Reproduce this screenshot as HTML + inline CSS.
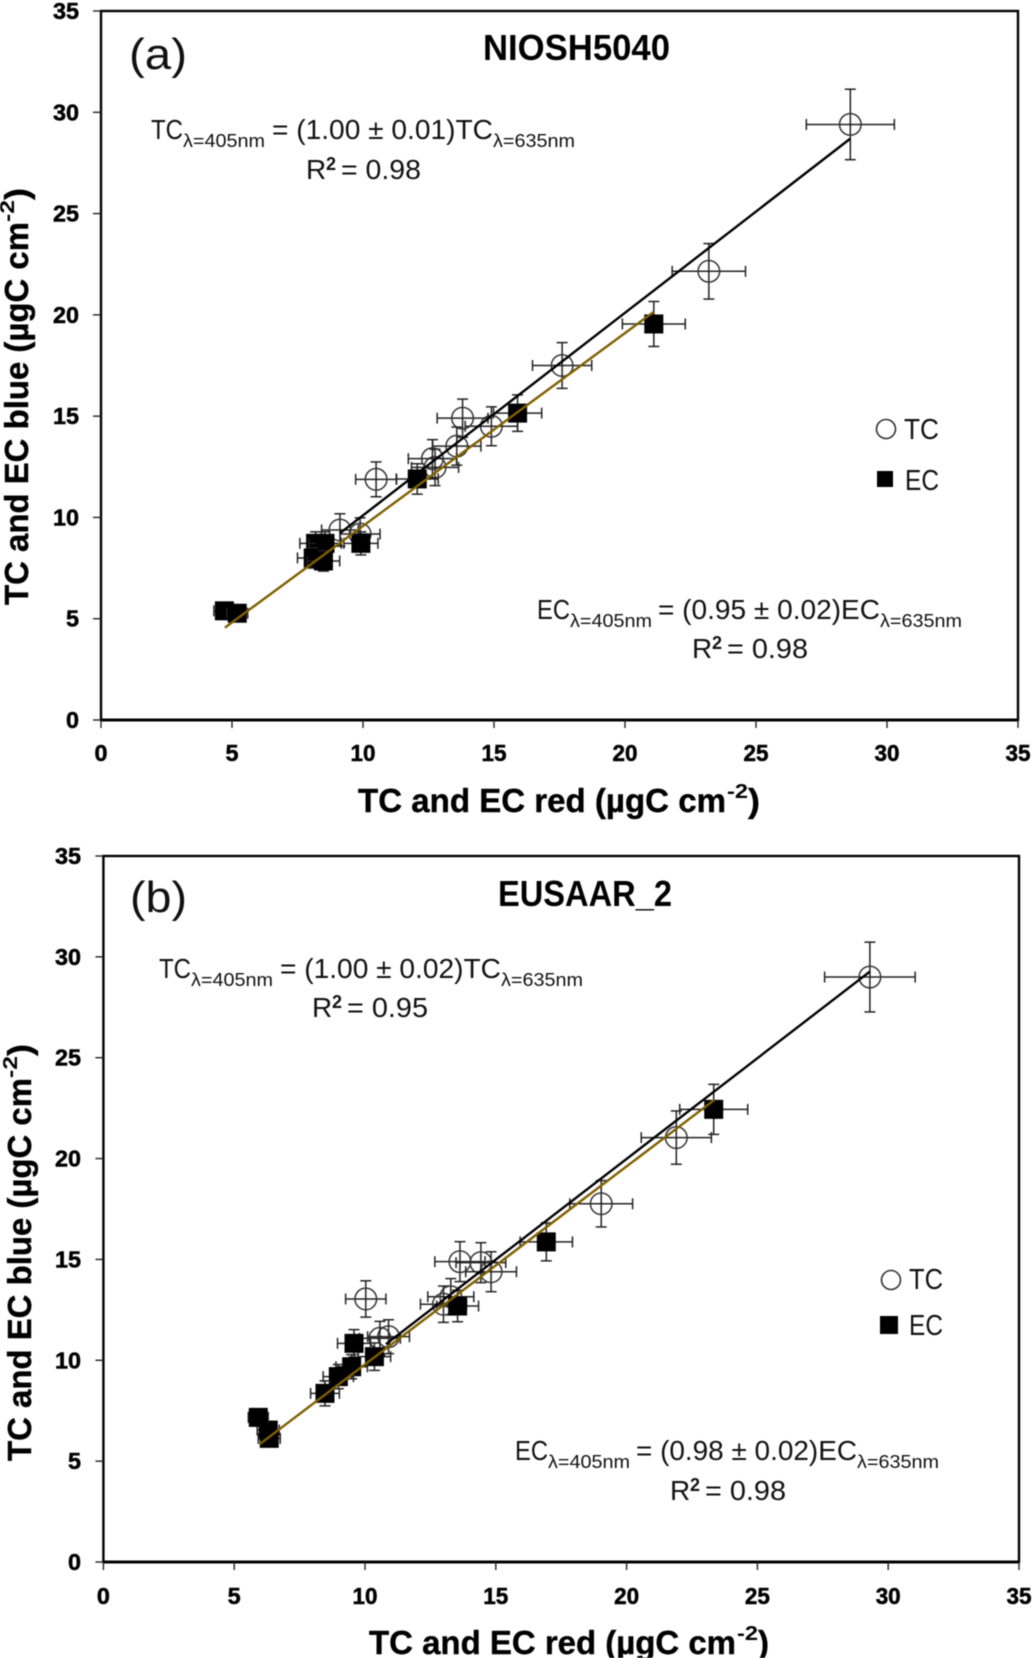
<!DOCTYPE html>
<html lang="en">
<head>
<meta charset="utf-8">
<title>TC and EC blue vs red comparison</title>
<style>
html,body{margin:0;padding:0;background:#fff;}
body{width:1033px;height:1658px;overflow:hidden;}
svg{display:block;filter:blur(0.45px);}
text{font-family:"Liberation Sans",sans-serif;fill:#111;}
.b{font-weight:bold;fill:#000;stroke:#000;stroke-width:0.5px;}
.eq{font-size:28px;}
.sub{font-size:18px;}
.sup{font-size:18px;font-weight:bold;}
.axt{font-size:33px;font-weight:bold;fill:#000;stroke:#000;stroke-width:0.4px;}
.axs{font-size:20px;font-weight:bold;fill:#000;}
.ttl{font-size:36px;font-weight:bold;fill:#000;}
.lab{font-size:44px;font-weight:normal;}
.leg{font-size:29px;}
</style>
</head>
<body>
<svg id="fig" xmlns="http://www.w3.org/2000/svg" width="1033" height="1658" viewBox="0 0 1033 1658">
  <rect width="1033" height="1658" fill="#fff"/>

  <g id="panel-a"></g>
  <g id="panel-b"></g>

  <!-- Panel A text -->
  <g>
    <text class="lab" x="129" y="69" textLength="58" lengthAdjust="spacingAndGlyphs">(a)</text>
    <text class="ttl" x="483" y="60" textLength="187" lengthAdjust="spacingAndGlyphs">NIOSH5040</text>

    <g>
      <text class="eq" x="151" y="139" textLength="32" lengthAdjust="spacingAndGlyphs">TC</text>
      <text class="sub" x="183" y="147" textLength="82" lengthAdjust="spacingAndGlyphs">λ=405nm</text>
      <text class="eq" x="272" y="139" textLength="221" lengthAdjust="spacingAndGlyphs">= (1.00 ± 0.01)TC</text>
      <text class="sub" x="493" y="147" textLength="82" lengthAdjust="spacingAndGlyphs">λ=635nm</text>
      <text class="eq" x="306" y="179">R</text>
      <text class="sup" x="326" y="170">2</text>
      <text class="eq" x="341" y="179" textLength="80" lengthAdjust="spacingAndGlyphs">= 0.98</text>
    </g>

    <g>
      <text class="eq" x="537" y="619" textLength="33" lengthAdjust="spacingAndGlyphs">EC</text>
      <text class="sub" x="570" y="627" textLength="82" lengthAdjust="spacingAndGlyphs">λ=405nm</text>
      <text class="eq" x="658" y="619" textLength="222" lengthAdjust="spacingAndGlyphs">= (0.95 ± 0.02)EC</text>
      <text class="sub" x="880" y="627" textLength="82" lengthAdjust="spacingAndGlyphs">λ=635nm</text>
      <text class="eq" x="692" y="658">R</text>
      <text class="sup" x="712" y="649">2</text>
      <text class="eq" x="727" y="658" textLength="81" lengthAdjust="spacingAndGlyphs">= 0.98</text>
    </g>

    <g>
      <circle cx="886" cy="429" r="9.5" fill="none" stroke="#333" stroke-width="1.6"/>
      <text class="leg" x="904" y="439" textLength="35" lengthAdjust="spacingAndGlyphs">TC</text>
      <rect x="877" y="471" width="16" height="16" fill="#000"/>
      <text class="leg" x="905" y="490" textLength="34" lengthAdjust="spacingAndGlyphs">EC</text>
    </g>

    <g>
      <text class="axt" x="358" y="812" textLength="368" lengthAdjust="spacingAndGlyphs">TC and EC red (µgC cm</text>
      <text class="axs" x="727" y="798" textLength="21" lengthAdjust="spacingAndGlyphs">-2</text>
      <text class="axt" x="748" y="812" textLength="12" lengthAdjust="spacingAndGlyphs">)</text>
    </g>
    <g transform="translate(28 605) rotate(-90)">
      <text class="axt" x="0" y="0" textLength="383" lengthAdjust="spacingAndGlyphs">TC and EC blue (µgC cm</text>
      <text class="axs" x="383" y="-14" textLength="22" lengthAdjust="spacingAndGlyphs">-2</text>
      <text class="axt" x="405" y="0" textLength="12" lengthAdjust="spacingAndGlyphs">)</text>
    </g>
  </g>

  <!-- Panel B text -->
  <g>
    <text class="lab" x="130" y="912" textLength="57" lengthAdjust="spacingAndGlyphs">(b)</text>
    <text class="ttl" x="498" y="906" textLength="174" lengthAdjust="spacingAndGlyphs">EUSAAR_2</text>

    <g>
      <text class="eq" x="159" y="978" textLength="32" lengthAdjust="spacingAndGlyphs">TC</text>
      <text class="sub" x="191" y="986" textLength="82" lengthAdjust="spacingAndGlyphs">λ=405nm</text>
      <text class="eq" x="280" y="978" textLength="221" lengthAdjust="spacingAndGlyphs">= (1.00 ± 0.02)TC</text>
      <text class="sub" x="501" y="986" textLength="82" lengthAdjust="spacingAndGlyphs">λ=635nm</text>
      <text class="eq" x="312" y="1017">R</text>
      <text class="sup" x="332" y="1008">2</text>
      <text class="eq" x="347" y="1017" textLength="81" lengthAdjust="spacingAndGlyphs">= 0.95</text>
    </g>

    <g>
      <text class="eq" x="515" y="1460" textLength="33" lengthAdjust="spacingAndGlyphs">EC</text>
      <text class="sub" x="548" y="1468" textLength="82" lengthAdjust="spacingAndGlyphs">λ=405nm</text>
      <text class="eq" x="636" y="1460" textLength="221" lengthAdjust="spacingAndGlyphs">= (0.98 ± 0.02)EC</text>
      <text class="sub" x="857" y="1468" textLength="82" lengthAdjust="spacingAndGlyphs">λ=635nm</text>
      <text class="eq" x="670" y="1500">R</text>
      <text class="sup" x="690" y="1491">2</text>
      <text class="eq" x="705" y="1500" textLength="81" lengthAdjust="spacingAndGlyphs">= 0.98</text>
    </g>

    <g>
      <circle cx="891" cy="1280" r="9.5" fill="none" stroke="#333" stroke-width="1.6"/>
      <text class="leg" x="909" y="1289" textLength="34" lengthAdjust="spacingAndGlyphs">TC</text>
      <rect x="880" y="1316" width="18" height="18" fill="#000"/>
      <text class="leg" x="909" y="1335" textLength="34" lengthAdjust="spacingAndGlyphs">EC</text>
    </g>

    <g>
      <text class="axt" x="369" y="1654" textLength="367" lengthAdjust="spacingAndGlyphs">TC and EC red (µgC cm</text>
      <text class="axs" x="737" y="1640" textLength="21" lengthAdjust="spacingAndGlyphs">-2</text>
      <text class="axt" x="758" y="1654" textLength="11" lengthAdjust="spacingAndGlyphs">)</text>
    </g>
    <g transform="translate(31 1461) rotate(-90)">
      <text class="axt" x="0" y="0" textLength="383" lengthAdjust="spacingAndGlyphs">TC and EC blue (µgC cm</text>
      <text class="axs" x="383" y="-14" textLength="22" lengthAdjust="spacingAndGlyphs">-2</text>
      <text class="axt" x="405" y="0" textLength="12" lengthAdjust="spacingAndGlyphs">)</text>
    </g>
  </g>
</svg>

<script>
// Tick labels shared by both panels and both axes
var tickValues = [0, 5, 10, 15, 20, 25, 30, 35];

// Panel (a) NIOSH5040 — TC series
var aTcX    = [28.6, 23.2, 17.6, 14.9, 13.8, 13.58, 12.75, 12.65, 10.5, 9.89, 9.12];
var aTcY    = [29.4, 22.15, 17.5, 14.5, 14.9, 13.52, 12.47, 12.9, 11.88, 9.18, 9.38];
var aTcXErr = [1.68, 1.4, 1.13, 1.0, 0.97, 0.92, 0.9, 0.92, 0.78, 0.76, 0.7];
var aTcYErr = [1.74, 1.37, 1.13, 0.96, 0.94, 0.94, 0.9, 0.94, 0.86, 0.8, 0.8];
// Panel (a) — EC series
var aEcX    = [21.1, 15.9, 12.07, 9.92, 8.19, 8.55, 8.1, 8.49, 4.71, 5.2];
var aEcY    = [19.55, 15.15, 11.9, 8.72, 8.72, 8.72, 8.0, 7.85, 5.39, 5.27];
var aEcXErr = [1.2, 0.92, 0.8, 0.65, 0.6, 0.62, 0.6, 0.62, 0.4, 0.4];
var aEcYErr = [1.11, 0.9, 0.75, 0.57, 0.57, 0.57, 0.5, 0.5, 0.3, 0.3];
// Panel (a) — regression lines
var aTcFitX = [9.12, 28.6];
var aTcFitY = [9.22, 28.7];
var aEcFitX = [4.73, 21.1];
var aEcFitY = [4.56, 20.15];

// Panel (b) EUSAAR_2 — TC series
var bTcX    = [29.3, 21.9, 19.03, 14.82, 14.43, 13.63, 13.28, 13.0, 10.9, 10.57, 10.03];
var bTcY    = [29.0, 21.04, 17.76, 14.39, 14.84, 14.89, 13.15, 12.78, 11.17, 11.09, 13.04];
var bTcXErr = [1.73, 1.34, 1.2, 0.97, 0.95, 0.96, 0.88, 0.88, 0.8, 0.78, 0.77];
var bTcYErr = [1.73, 1.32, 1.15, 0.99, 0.99, 0.99, 0.9, 0.9, 0.84, 0.84, 0.9];
// Panel (b) — EC series
var bEcX    = [23.33, 16.93, 13.54, 10.36, 9.58, 9.49, 8.98, 8.47, 6.3, 5.92, 6.34];
var bEcY    = [22.44, 15.87, 12.69, 10.18, 10.84, 9.68, 9.19, 8.36, 6.54, 7.17, 6.13];
var bEcXErr = [1.3, 1.0, 0.8, 0.62, 0.63, 0.6, 0.58, 0.55, 0.42, 0.38, 0.42];
var bEcYErr = [1.24, 0.94, 0.78, 0.68, 0.68, 0.6, 0.6, 0.62, 0.42, 0.42, 0.4];
// Panel (b) — regression lines
var bTcFitX = [10.8, 29.3];
var bTcFitY = [10.8, 29.27];
var bEcFitX = [5.96, 23.35];
var bEcFitY = [5.83, 22.9];

var NS = 'http://www.w3.org/2000/svg';

function make(tag, parent, name, props) {
  var el = document.createElementNS(NS, tag);
  for (var k in props) { el.setAttribute(k, props[k]); }
  
  
  parent.appendChild(el);
  return el;
}

function drawLine(parent, name, x1, y1, x2, y2, stroke, width) {
  return make('line', parent, name, {x1: x1, y1: y1, x2: x2, y2: y2, stroke: stroke, 'stroke-width': width});
}

function drawPanel(cfg) {
  var root = document.getElementById(cfg.id);
  var sx = function (v) { return cfg.left + (v / 35) * (cfg.right - cfg.left); };
  var sy = function (v) { return cfg.bottom - (v / 35) * (cfg.bottom - cfg.top); };

  // axes and frame
  var axes = make('g', root, 'axes', {});
  make('rect', axes, 'plot-frame', {x: cfg.left, y: cfg.top, width: cfg.right - cfg.left, height: cfg.bottom - cfg.top, fill: 'none', stroke: '#000', 'stroke-width': 2.4});
  drawLine(axes, 'x-axis-line', cfg.left, cfg.bottom, cfg.right, cfg.bottom, '#000', 3);
  tickValues.forEach(function (t) {
    drawLine(axes, 'x-tick', sx(t), cfg.bottom, sx(t), cfg.bottom + 8, '#222', 1.4);
    drawLine(axes, 'y-tick', cfg.left - 8, sy(t), cfg.left, sy(t), '#222', 1.4);
    var xl = make('text', axes, 'x-tick-label', {x: sx(t), y: cfg.xTickBase, 'text-anchor': 'middle', 'class': 'b', 'font-size': 23, textLength: t < 10 ? 13 : 25, lengthAdjust: 'spacingAndGlyphs'});
    xl.textContent = t;
    var yl = make('text', axes, 'y-tick-label', {x: cfg.yTickEnd, y: sy(t) + 8, 'text-anchor': 'end', 'class': 'b', 'font-size': 23, textLength: t < 10 ? 13 : 26, lengthAdjust: 'spacingAndGlyphs'});
    yl.textContent = t;
  });

  function errorBars(g, x, y, xe, ye, capColor) {
    var px = sx(x), py = sy(y);
    var x0 = sx(x - xe), x1 = sx(x + xe), y0 = sy(y - ye), y1 = sy(y + ye);
    drawLine(g, 'x-error-bar', x0, py, x1, py, capColor, 1.5);
    drawLine(g, 'x-error-cap', x0, py - 5.5, x0, py + 5.5, capColor, 1.5);
    drawLine(g, 'x-error-cap', x1, py - 5.5, x1, py + 5.5, capColor, 1.5);
    drawLine(g, 'y-error-bar', px, y0, px, y1, capColor, 1.5);
    drawLine(g, 'y-error-cap', px - 5.5, y0, px + 5.5, y0, capColor, 1.5);
    drawLine(g, 'y-error-cap', px - 5.5, y1, px + 5.5, y1, capColor, 1.5);
  }

  // TC points: open circles
  var tcSeries = make('g', root, 'tc-series', {});
  cfg.tcX.forEach(function (x, i) {
    var g = make('g', tcSeries, 'tc-point', {});
    errorBars(g, x, cfg.tcY[i], cfg.tcXErr[i], cfg.tcYErr[i], '#222');
    make('circle', g, 'tc-marker', {cx: sx(x), cy: sy(cfg.tcY[i]), r: 10.8, fill: 'none', stroke: '#333', 'stroke-width': 1.5});
  });

  // EC points: filled squares
  var ecSeries = make('g', root, 'ec-series', {});
  cfg.ecX.forEach(function (x, i) {
    var g = make('g', ecSeries, 'ec-point', {});
    errorBars(g, x, cfg.ecY[i], cfg.ecXErr[i], cfg.ecYErr[i], '#222');
    make('rect', g, 'ec-marker', {x: sx(x) - 9.5, y: sy(cfg.ecY[i]) - 9.5, width: 19, height: 19, fill: '#000'});
  });

  // regression lines
  drawLine(root, 'tc-regression-line', sx(cfg.tcFitX[0]), sy(cfg.tcFitY[0]), sx(cfg.tcFitX[1]), sy(cfg.tcFitY[1]), '#000', 2.4);
  drawLine(root, 'ec-regression-line', sx(cfg.ecFitX[0]), sy(cfg.ecFitY[0]), sx(cfg.ecFitX[1]), sy(cfg.ecFitY[1]), '#7f6000', 2.4);
}

drawPanel({
  id: 'panel-a', left: 101, right: 1018, top: 11, bottom: 720,
  xTickBase: 761, yTickEnd: 79,
  tcX: aTcX, tcY: aTcY, tcXErr: aTcXErr, tcYErr: aTcYErr,
  ecX: aEcX, ecY: aEcY, ecXErr: aEcXErr, ecYErr: aEcYErr,
  tcFitX: aTcFitX, tcFitY: aTcFitY, ecFitX: aEcFitX, ecFitY: aEcFitY
});

drawPanel({
  id: 'panel-b', left: 103.4, right: 1019, top: 856, bottom: 1562,
  xTickBase: 1604, yTickEnd: 81,
  tcX: bTcX, tcY: bTcY, tcXErr: bTcXErr, tcYErr: bTcYErr,
  ecX: bEcX, ecY: bEcY, ecXErr: bEcXErr, ecYErr: bEcYErr,
  tcFitX: bTcFitX, tcFitY: bTcFitY, ecFitX: bEcFitX, ecFitY: bEcFitY
});
</script>
</body>
</html>
